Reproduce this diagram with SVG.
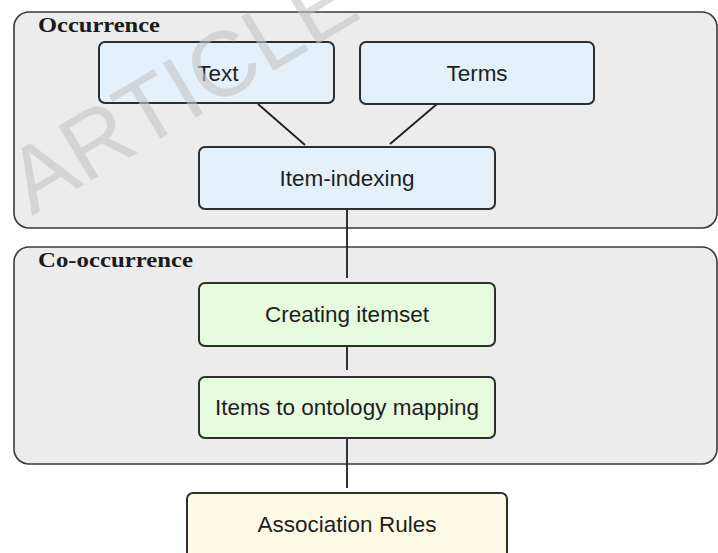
<svg xmlns="http://www.w3.org/2000/svg" width="718" height="553" viewBox="0 0 718 553">
  <style>
    .panel { fill: #ececec; stroke: #3a3a3a; stroke-width: 1.6; }
    .panel-title { font-family: "Liberation Serif", "DejaVu Serif", serif; font-weight: bold; font-size: 21px; fill: #1a1a1a; }
    .node rect { stroke: #2e2e2e; stroke-width: 2; }
    .node text { font-family: "Liberation Sans", "DejaVu Sans", sans-serif; font-size: 22.5px; fill: #1e1e1e; text-anchor: middle; }
    .blue rect { fill: #e4f0fa; }
    .green rect { fill: #e6fadd; }
    .yellow rect { fill: #fcfae4; }
    .edge { stroke: #1e1e1e; stroke-width: 1.8; fill: none; }
    .mark { font-family: "Liberation Sans", "DejaVu Sans", sans-serif; font-size: 92px; fill: #c4c4c4; fill-opacity: 0.6; }
  </style>

  <rect width="718" height="553" fill="#ffffff"/>

  <!-- stage panels -->
  <g id="panel-occurrence">
    <rect class="panel" x="14" y="12" width="703" height="216" rx="15"/>
    <text class="panel-title" x="38" y="32" textLength="122" lengthAdjust="spacingAndGlyphs">Occurrence</text>
  </g>
  <g id="panel-cooccurrence">
    <rect class="panel" x="14" y="247" width="703" height="217" rx="15"/>
    <text class="panel-title" x="38" y="267" textLength="155" lengthAdjust="spacingAndGlyphs">Co-occurrence</text>
  </g>

  <!-- connectors -->
  <g id="connectors">
    <line class="edge" x1="258" y1="104" x2="305" y2="145"/>
    <line class="edge" x1="437" y1="104" x2="390" y2="144"/>
    <line class="edge" x1="347" y1="209" x2="347" y2="278"/>
    <line class="edge" x1="347" y1="346" x2="347" y2="370"/>
    <line class="edge" x1="347" y1="438" x2="347" y2="488"/>
  </g>

  <!-- nodes -->
  <g id="node-text" class="node blue">
    <rect x="99" y="42" width="235" height="61" rx="6"/>
    <text x="218" y="81">Text</text>
  </g>
  <g id="node-terms" class="node blue">
    <rect x="360" y="42" width="234" height="62" rx="6"/>
    <text x="477" y="81">Terms</text>
  </g>
  <g id="node-item-indexing" class="node blue">
    <rect x="199" y="147" width="296" height="62" rx="6"/>
    <text x="347" y="186">Item-indexing</text>
  </g>
  <g id="node-creating-itemset" class="node green">
    <rect x="199" y="283" width="296" height="63" rx="6"/>
    <text x="347" y="322">Creating itemset</text>
  </g>
  <g id="node-ontology-mapping" class="node green">
    <rect x="199" y="377" width="296" height="61" rx="6"/>
    <text x="347" y="415">Items to ontology mapping</text>
  </g>
  <g id="node-association-rules" class="node yellow">
    <rect x="187" y="493" width="320" height="70" rx="6"/>
    <text x="347" y="532">Association Rules</text>
  </g>

  <!-- watermark -->
  <text class="mark" transform="translate(32 216) rotate(-31)">ARTICLE</text>
</svg>
